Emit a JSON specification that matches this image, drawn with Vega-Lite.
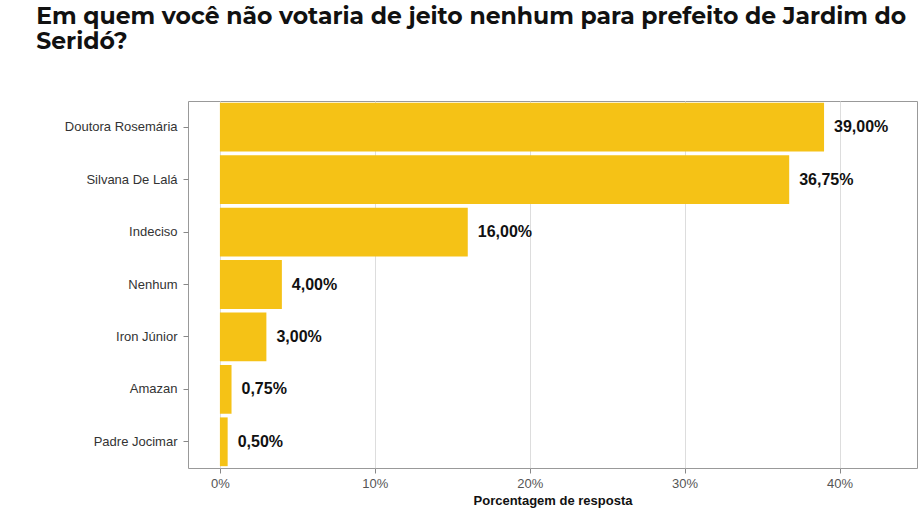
{
  "$schema": "https://vega.github.io/schema/vega-lite/v6.json",
  "width": 729,
  "height": 367,
  "padding": {"left": 36, "top": 4, "right": 10, "bottom": 5},
  "background": "white",
  "title": {
    "text": ["Em quem você não votaria de jeito nenhum para prefeito de Jardim do", "Seridó?"],
    "anchor": "start",
    "frame": "bounds",
    "dx": -28,
    "font": "Montserrat, Inter, sans-serif",
    "fontSize": 23.5,
    "fontWeight": "bold",
    "color": "#111111",
    "lineHeight": 25,
    "offset": 48
  },
  "config": {
    "view": {"stroke": "#999999", "strokeWidth": 1},
    "font": "Liberation Sans"
  },
  "data": {
    "values": [
      {"candidato": "Doutora Rosemária", "pct": 39.0},
      {"candidato": "Silvana De Lalá", "pct": 36.75},
      {"candidato": "Indeciso", "pct": 16.0},
      {"candidato": "Nenhum", "pct": 4.0},
      {"candidato": "Iron Júnior", "pct": 3.0},
      {"candidato": "Amazan", "pct": 0.75},
      {"candidato": "Padre Jocimar", "pct": 0.5}
    ]
  },
  "transform": [
    {"calculate": "replace(format(datum.pct, '.2f'), '.', ',') + '%'", "as": "rotulo"}
  ],
  "encoding": {
    "y": {
      "field": "candidato",
      "type": "nominal",
      "sort": null,
      "title": null,
      "scale": {"paddingInner": 0.07, "paddingOuter": 0.035},
      "axis": {"labelFontSize": 13, "labelColor": "#333333", "tickColor": "#888888", "domain": false, "labelPadding": 6}
    },
    "x": {
      "field": "pct",
      "type": "quantitative",
      "title": "Porcentagem de resposta",
      "scale": {"domain": [-2.06, 45], "nice": false, "zero": false},
      "axis": {
        "values": [0, 10, 20, 30, 40],
        "labelExpr": "datum.value + '%'",
        "labelFontSize": 13,
        "labelColor": "#555555",
        "titleFontSize": 13,
        "titleFontWeight": "bold",
        "titleColor": "#111111",
        "gridColor": "#dddddd",
        "tickColor": "#888888",
        "domain": false,
        "labelPadding": 4
      }
    }
  },
  "layer": [
    {
      "mark": {"type": "bar", "color": "#F5C216"},
      "encoding": {"x2": {"datum": 0}}
    },
    {
      "mark": {"type": "text", "align": "left", "dx": 10, "fontSize": 16, "fontWeight": "bold", "color": "#111111"},
      "encoding": {"text": {"field": "rotulo"}}
    }
  ]
}
